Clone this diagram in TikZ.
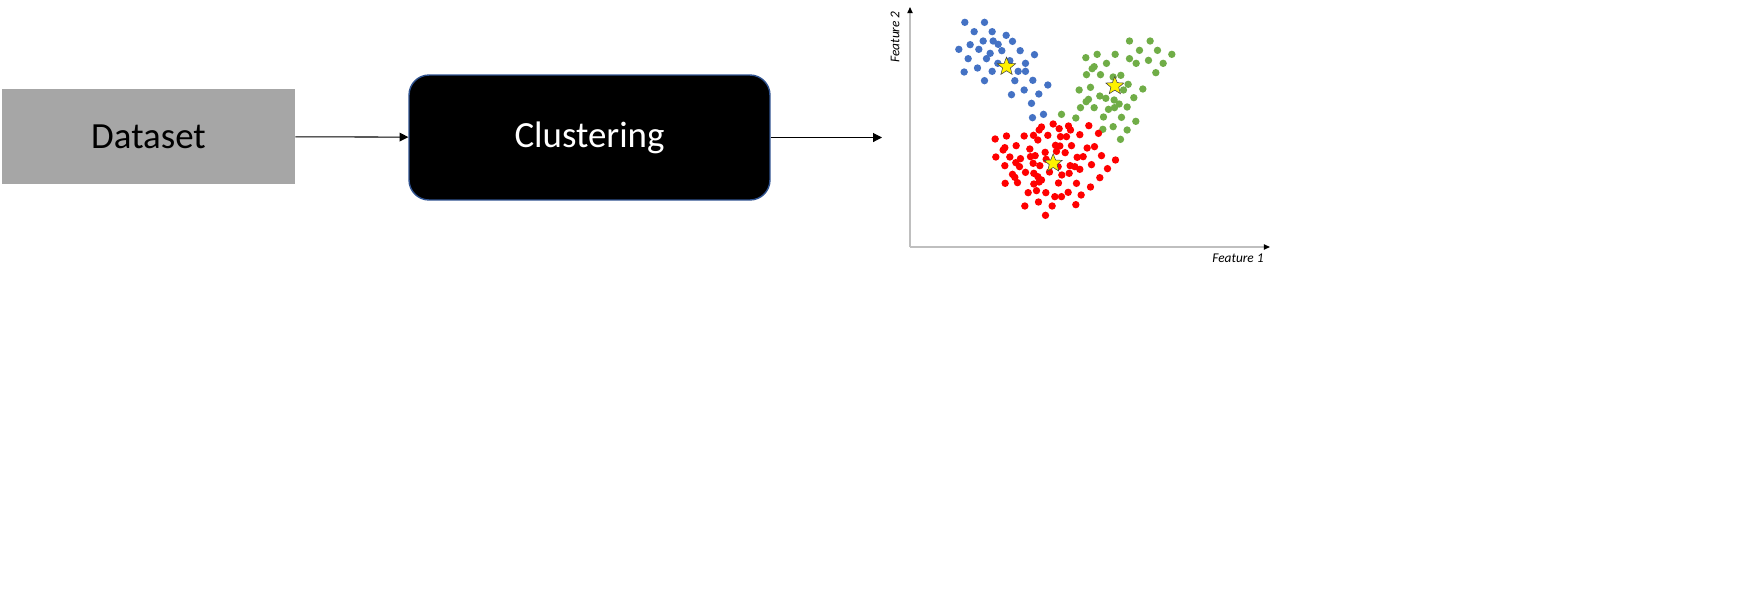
\documentclass[tikz,border=0pt]{standalone}
\usepackage{fontspec}
\setmainfont{Carlito}
\usetikzlibrary{arrows.meta,shapes.geometric}

\definecolor{boxgray}{HTML}{A6A6A6}
\definecolor{boxedge}{HTML}{2F528F}
\definecolor{cblue}{HTML}{4472C4}
\definecolor{cgreen}{HTML}{70AD47}
\definecolor{axisgray}{HTML}{BFBFBF}

\tikzset{
  flow/.style={-{Triangle[length=5pt,width=5pt]}, line width=0.6pt},
  axis/.style={draw=axisgray, line width=0.7pt, -{Triangle[length=3.5pt,width=3pt,color=black]}},
  centroid/.style={star, star points=5, star point ratio=2.3, fill=yellow, draw=black!75,
    line width=0.3pt, minimum size=0.38cm, inner sep=0pt},
}

\begin{document}
\begin{tikzpicture}[x=0.02cm,y=-0.02cm]
\useasboundingbox (0,0) rectangle (1744,599);

\node[fill=boxgray, minimum width=5.86cm, minimum height=1.9cm, font=\fontsize{21}{25}\selectfont] (data) at (148.5,136.5) {Dataset};
\node[fill=black, draw=boxedge, line width=0.8pt, rounded corners=0.4cm, minimum width=7.22cm, minimum height=2.5cm,
  text=white, font=\fontsize{21}{25}\selectfont] (clus) at (589.5,137.5) {Clustering};
\coordinate (out) at (882,137.5);

\draw[flow] (data) -- (clus);
\draw[flow] (clus) -- (out);

% scatter plot
\coordinate (orig) at (910,247);
\coordinate (ytop) at (910,7);
\coordinate (xend) at (1270,247);
\draw[axis] (orig) -- (ytop);
\draw[axis] (orig) -- (xend);
\node[rotate=90, font=\fontsize{7.6}{9}\itshape] (ylab) at (895,37) {Feature 2};
\node[font=\fontsize{7.6}{9}\itshape] (xlab) at (1238,258) {Feature 1};

\begin{scope}[xshift=17.6cm, x=0.006667cm, y=-0.006667cm]
\foreach \p in {(255,67),(314,67),(283,95),(337,95),(379,106),(310,123),(340,123),(355,133),(398,124),
  (271,134),(237,148),(297,148),(366,152),(421,152),(331,160),(464,164),(265,176),(320,176),(354,190),
  (390,182),(437,190),(293,204),(253,216),(337,214),(415,214),(437,214),(314,242),(405,242),(459,241),
  (504,255),(433,270),(395,284),(477,282),(455,310),(458,353),(491,343)}
  \fill[cblue] \p circle (2.1pt);
\foreach \p in {(749,123),(811,123),(652,163),(706,163),(618,173),(779,151),(833,151),(876,163),(749,176),
  (806,181),(680,190),(643,200),(637,206),(769,190),(850,190),(828,218),(620,224),(662,224),(723,226),
  (700,231),(632,262),(598,270),(731,270),(745,253),(789,267),(660,288),(678,295),(626,298),(619,305),
  (703,300),(762,293),(718,312),(643,323),(602,323),(686,328),(704,323),(742,321),(545,343),(588,354),
  (671,351),(725,352),(768,364),(700,380),(669,388),(742,390),(722,418)}
  \fill[cgreen] \p circle (2.1pt);
\foreach \p in {(346,417),(380,408),(433,408),(461,406),(485,381),(478,390),(520,372),(538,386),(566,378),
  (572,390),(627,377),(504,406),(542,410),(560,410),(600,404),(474,420),(375,443),(370,450),(409,437),
  (450,447),(496,457),(527,436),(540,438),(575,437),(622,444),(644,440),(656,400),(348,471),(390,471),
  (422,476),(452,470),(466,467),(499,478),(530,454),(556,458),(592,472),(610,470),(665,467),(707,480),
  (375,497),(408,488),(419,500),(460,490),(480,497),(535,500),(571,497),(585,500),(600,508),(635,494),
  (683,506),(398,523),(405,532),(437,517),(462,520),(474,530),(509,516),(546,525),(568,520),(376,550),
  (413,548),(462,552),(478,546),(485,540),(536,549),(590,550),(660,533),(632,561),(445,578),(470,572),
  (498,578),(565,577),(604,585),(476,606),(525,590),(545,590),(435,618),(517,618),(588,614),(497,646)}
  \fill[red] \p circle (2.1pt);
\node[centroid] (c1) at (380,200) {};
\node[centroid] (c2) at (705,258) {};
\node[centroid] (c3) at (520,490) {};
\end{scope}

\end{tikzpicture}
\end{document}
